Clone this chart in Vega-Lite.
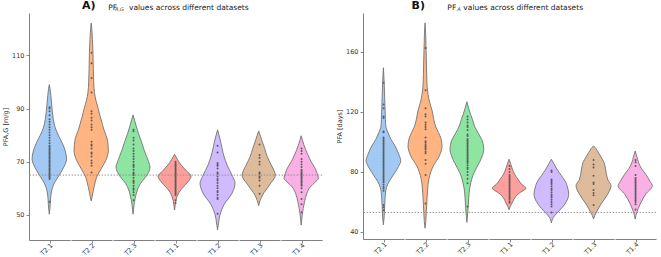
{
"$schema": "https://vega.github.io/schema/vega-lite/v6.json",
"padding": {"left": 2, "top": 0, "right": 0, "bottom": 0},
"title": {"text": "A,G\u2003\u2003\u2003\u2003\u2003\u2003\u2003\u2003\u2003\u2003\u2003\u2003\u2003\u2003\u2003\u2003\u2003\u2003\u2003\u2003\u2003\u2003\u2003\u2003\u2003\u2003\u2003\u2003\u2003\u2003\u2003\u2003\u2003\u2003\u2003\u2003\u2003\u2003\u2003\u2003\u2003\u2003\u2003\u2003\u2003\u2003\u2003\u2003\u2003\u2003\u2003\u2003\u2003\u2003\u2003\u2003\u2003\u2003\u2003\u2003\u2003\u2003\u2003\u2003\u2003\u2003\u00a0\u00a0A", "anchor": "start", "frame": "group", "dx": 86, "fontSize": 5, "fontStyle": "italic", "fontWeight": "normal", "color": "#333", "offset": -11.5},
"spacing": 13,
"config": {
  "font": "DejaVu Sans",
  "view": {"stroke": null},
  "axis": {"grid": false, "labelFont": "DejaVu Sans", "titleFont": "DejaVu Sans", "labelFontSize": 6.5, "titleFontSize": 6.5, "titleFontWeight": "normal", "labelColor": "#333", "titleColor": "#333", "domainColor": "#707070", "tickColor": "#707070", "domainWidth": 0.9, "tickWidth": 0.8, "tickSize": 3, "labelPadding": 2, "titlePadding": 3, "labelOverlap": false},
  "header": {"labelFont": "DejaVu Sans"},
  "title": {"font": "DejaVu Sans"}
},
"hconcat": [
{
  "title": {"text": "A)", "subtitle": "\u200b\u00a0\u00a0\u00a0\u00a0\u00a0\u00a0\u00a0\u00a0\u00a0\u00a0\u00a0PF\u00a0\u00a0\u00a0\u00a0\u00a0values across different datasets", "anchor": "start", "frame": "group", "dx": 53, "fontSize": 11, "fontWeight": "bold", "color": "#111", "subtitleFontSize": 7.5, "subtitleColor": "#222", "subtitlePadding": -7.5, "offset": 2},
  "bounds": "flush",
  "data": {"values": [
    {"g":"T2.1","k":"s","v":50.3,"w":0},{"g":"T2.1","k":"s","v":53,"w":1.5},{"g":"T2.1","k":"s","v":56,"w":2.5},{"g":"T2.1","k":"s","v":59,"w":4.5},{"g":"T2.1","k":"s","v":62,"w":10},{"g":"T2.1","k":"s","v":65,"w":20},{"g":"T2.1","k":"s","v":68,"w":29},{"g":"T2.1","k":"s","v":71,"w":34.5},{"g":"T2.1","k":"s","v":74,"w":32},{"g":"T2.1","k":"s","v":77,"w":26},{"g":"T2.1","k":"s","v":80,"w":18},{"g":"T2.1","k":"s","v":83,"w":11.5},{"g":"T2.1","k":"s","v":86,"w":8},{"g":"T2.1","k":"s","v":89,"w":6},{"g":"T2.1","k":"s","v":92,"w":4.5},{"g":"T2.1","k":"s","v":95,"w":3},{"g":"T2.1","k":"s","v":97.5,"w":1.5},{"g":"T2.1","k":"s","v":99,"w":0},
    {"g":"T2.2","k":"s","v":55.3,"w":0},{"g":"T2.2","k":"s","v":57,"w":2},{"g":"T2.2","k":"s","v":59,"w":4},{"g":"T2.2","k":"s","v":61,"w":6.5},{"g":"T2.2","k":"s","v":64,"w":10.5},{"g":"T2.2","k":"s","v":67.6,"w":20.7},{"g":"T2.2","k":"s","v":71.3,"w":31},{"g":"T2.2","k":"s","v":74.4,"w":34.3},{"g":"T2.2","k":"s","v":78.8,"w":31.7},{"g":"T2.2","k":"s","v":82,"w":25.5},{"g":"T2.2","k":"s","v":84,"w":22.5},{"g":"T2.2","k":"s","v":87,"w":18},{"g":"T2.2","k":"s","v":90,"w":14},{"g":"T2.2","k":"s","v":93,"w":9.5},{"g":"T2.2","k":"s","v":96,"w":6.5},{"g":"T2.2","k":"s","v":100,"w":5},{"g":"T2.2","k":"s","v":105,"w":4.2},{"g":"T2.2","k":"s","v":111,"w":3.5},{"g":"T2.2","k":"s","v":116,"w":2.5},{"g":"T2.2","k":"s","v":120,"w":1.2},{"g":"T2.2","k":"s","v":122.1,"w":0},
    {"g":"T2.3","k":"s","v":50.3,"w":0},{"g":"T2.3","k":"s","v":53.8,"w":2},{"g":"T2.3","k":"s","v":57.5,"w":5.7},{"g":"T2.3","k":"s","v":61.9,"w":15},{"g":"T2.3","k":"s","v":64,"w":24},{"g":"T2.3","k":"s","v":66,"w":31},{"g":"T2.3","k":"s","v":68,"w":34},{"g":"T2.3","k":"s","v":70,"w":31},{"g":"T2.3","k":"s","v":72,"w":27},{"g":"T2.3","k":"s","v":74.5,"w":22},{"g":"T2.3","k":"s","v":77.6,"w":16.7},{"g":"T2.3","k":"s","v":80.5,"w":11},{"g":"T2.3","k":"s","v":83.8,"w":5.7},{"g":"T2.3","k":"s","v":86,"w":2.5},{"g":"T2.3","k":"s","v":87.6,"w":0},
    {"g":"T1.1","k":"s","v":51.9,"w":0},{"g":"T1.1","k":"s","v":54,"w":1.5},{"g":"T1.1","k":"s","v":56.9,"w":5},{"g":"T1.1","k":"s","v":58.5,"w":9},{"g":"T1.1","k":"s","v":60.6,"w":17.7},{"g":"T1.1","k":"s","v":62.5,"w":27},{"g":"T1.1","k":"s","v":64.6,"w":33},{"g":"T1.1","k":"s","v":66.5,"w":24},{"g":"T1.1","k":"s","v":68.8,"w":13.3},{"g":"T1.1","k":"s","v":70.8,"w":6},{"g":"T1.1","k":"s","v":72.8,"w":0},
    {"g":"T1.2","k":"s","v":44.4,"w":0},{"g":"T1.2","k":"s","v":47,"w":2},{"g":"T1.2","k":"s","v":50,"w":4.7},{"g":"T1.2","k":"s","v":53.8,"w":12.7},{"g":"T1.2","k":"s","v":58.2,"w":29},{"g":"T1.2","k":"s","v":61.9,"w":35},{"g":"T1.2","k":"s","v":64.5,"w":30},{"g":"T1.2","k":"s","v":68.8,"w":19},{"g":"T1.2","k":"s","v":72,"w":13},{"g":"T1.2","k":"s","v":75.1,"w":9},{"g":"T1.2","k":"s","v":78.5,"w":5},{"g":"T1.2","k":"s","v":82,"w":0},
    {"g":"T1.3","k":"s","v":53.5,"w":0},{"g":"T1.3","k":"s","v":55.5,"w":3},{"g":"T1.3","k":"s","v":57.5,"w":7.7},{"g":"T1.3","k":"s","v":61.3,"w":21.7},{"g":"T1.3","k":"s","v":65,"w":33.3},{"g":"T1.3","k":"s","v":66.5,"w":31},{"g":"T1.3","k":"s","v":68.8,"w":25},{"g":"T1.3","k":"s","v":72,"w":17},{"g":"T1.3","k":"s","v":75.1,"w":11.7},{"g":"T1.3","k":"s","v":78.5,"w":5.5},{"g":"T1.3","k":"s","v":81.6,"w":0},
    {"g":"T1.4","k":"s","v":46.2,"w":0},{"g":"T1.4","k":"s","v":50,"w":2},{"g":"T1.4","k":"s","v":55,"w":6.7},{"g":"T1.4","k":"s","v":58,"w":11},{"g":"T1.4","k":"s","v":60.6,"w":18.3},{"g":"T1.4","k":"s","v":62.2,"w":27},{"g":"T1.4","k":"s","v":63.8,"w":34.3},{"g":"T1.4","k":"s","v":65.5,"w":32},{"g":"T1.4","k":"s","v":67.6,"w":27.7},{"g":"T1.4","k":"s","v":70,"w":20},{"g":"T1.4","k":"s","v":72.6,"w":13.3},{"g":"T1.4","k":"s","v":76,"w":6},{"g":"T1.4","k":"s","v":79.8,"w":0},
    {"g":"T2.1","k":"p","v":55},{"g":"T2.1","k":"p","v":63.5},{"g":"T2.1","k":"p","v":64},{"g":"T2.1","k":"p","v":64.5},{"g":"T2.1","k":"p","v":65},{"g":"T2.1","k":"p","v":65.5},{"g":"T2.1","k":"p","v":66},{"g":"T2.1","k":"p","v":66.5},{"g":"T2.1","k":"p","v":67},{"g":"T2.1","k":"p","v":67.5},{"g":"T2.1","k":"p","v":68},{"g":"T2.1","k":"p","v":68.5},{"g":"T2.1","k":"p","v":69},{"g":"T2.1","k":"p","v":69.5},{"g":"T2.1","k":"p","v":70},{"g":"T2.1","k":"p","v":70.5},{"g":"T2.1","k":"p","v":71},{"g":"T2.1","k":"p","v":71.5},{"g":"T2.1","k":"p","v":72},{"g":"T2.1","k":"p","v":72.5},{"g":"T2.1","k":"p","v":73},{"g":"T2.1","k":"p","v":73.5},{"g":"T2.1","k":"p","v":74},{"g":"T2.1","k":"p","v":74.5},{"g":"T2.1","k":"p","v":75},{"g":"T2.1","k":"p","v":75.5},{"g":"T2.1","k":"p","v":76},{"g":"T2.1","k":"p","v":77},{"g":"T2.1","k":"p","v":78},{"g":"T2.1","k":"p","v":79},{"g":"T2.1","k":"p","v":80},{"g":"T2.1","k":"p","v":81},{"g":"T2.1","k":"p","v":82},{"g":"T2.1","k":"p","v":83},{"g":"T2.1","k":"p","v":84},{"g":"T2.1","k":"p","v":85},{"g":"T2.1","k":"p","v":86},{"g":"T2.1","k":"p","v":87.5},{"g":"T2.1","k":"p","v":89},{"g":"T2.1","k":"p","v":90},{"g":"T2.1","k":"p","v":90.5},
    {"g":"T2.2","k":"p","v":66},{"g":"T2.2","k":"p","v":68.5},{"g":"T2.2","k":"p","v":69.5},{"g":"T2.2","k":"p","v":70.5},{"g":"T2.2","k":"p","v":72},{"g":"T2.2","k":"p","v":73},{"g":"T2.2","k":"p","v":73.5},{"g":"T2.2","k":"p","v":75},{"g":"T2.2","k":"p","v":76},{"g":"T2.2","k":"p","v":76.5},{"g":"T2.2","k":"p","v":77.5},{"g":"T2.2","k":"p","v":82},{"g":"T2.2","k":"p","v":83},{"g":"T2.2","k":"p","v":84},{"g":"T2.2","k":"p","v":85.5},{"g":"T2.2","k":"p","v":86.5},{"g":"T2.2","k":"p","v":88},{"g":"T2.2","k":"p","v":89},{"g":"T2.2","k":"p","v":96},{"g":"T2.2","k":"p","v":101.5},{"g":"T2.2","k":"p","v":107},{"g":"T2.2","k":"p","v":111},
    {"g":"T2.3","k":"p","v":55.5},{"g":"T2.3","k":"p","v":57.5},{"g":"T2.3","k":"p","v":58.5},{"g":"T2.3","k":"p","v":59.5},{"g":"T2.3","k":"p","v":60},{"g":"T2.3","k":"p","v":61},{"g":"T2.3","k":"p","v":62},{"g":"T2.3","k":"p","v":62.5},{"g":"T2.3","k":"p","v":63},{"g":"T2.3","k":"p","v":64},{"g":"T2.3","k":"p","v":65},{"g":"T2.3","k":"p","v":65.5},{"g":"T2.3","k":"p","v":66},{"g":"T2.3","k":"p","v":67},{"g":"T2.3","k":"p","v":68},{"g":"T2.3","k":"p","v":68.5},{"g":"T2.3","k":"p","v":69},{"g":"T2.3","k":"p","v":70},{"g":"T2.3","k":"p","v":71},{"g":"T2.3","k":"p","v":72},{"g":"T2.3","k":"p","v":73},{"g":"T2.3","k":"p","v":74},{"g":"T2.3","k":"p","v":75},{"g":"T2.3","k":"p","v":76.5},{"g":"T2.3","k":"p","v":78},{"g":"T2.3","k":"p","v":79},{"g":"T2.3","k":"p","v":81.5},{"g":"T2.3","k":"p","v":82},
    {"g":"T1.1","k":"p","v":54.5},{"g":"T1.1","k":"p","v":55.5},{"g":"T1.1","k":"p","v":57.5},{"g":"T1.1","k":"p","v":58},{"g":"T1.1","k":"p","v":58.5},{"g":"T1.1","k":"p","v":59},{"g":"T1.1","k":"p","v":59.5},{"g":"T1.1","k":"p","v":60},{"g":"T1.1","k":"p","v":60.5},{"g":"T1.1","k":"p","v":61},{"g":"T1.1","k":"p","v":61.5},{"g":"T1.1","k":"p","v":62},{"g":"T1.1","k":"p","v":62.5},{"g":"T1.1","k":"p","v":63},{"g":"T1.1","k":"p","v":63.5},{"g":"T1.1","k":"p","v":64},{"g":"T1.1","k":"p","v":64.5},{"g":"T1.1","k":"p","v":65},{"g":"T1.1","k":"p","v":65.5},{"g":"T1.1","k":"p","v":66},{"g":"T1.1","k":"p","v":66.5},{"g":"T1.1","k":"p","v":67},{"g":"T1.1","k":"p","v":67.5},{"g":"T1.1","k":"p","v":68},{"g":"T1.1","k":"p","v":68.5},{"g":"T1.1","k":"p","v":69},{"g":"T1.1","k":"p","v":69.5},{"g":"T1.1","k":"p","v":70},
    {"g":"T1.2","k":"p","v":50.5},{"g":"T1.2","k":"p","v":56},{"g":"T1.2","k":"p","v":56.5},{"g":"T1.2","k":"p","v":57.5},{"g":"T1.2","k":"p","v":58.5},{"g":"T1.2","k":"p","v":59},{"g":"T1.2","k":"p","v":60},{"g":"T1.2","k":"p","v":61},{"g":"T1.2","k":"p","v":62},{"g":"T1.2","k":"p","v":63},{"g":"T1.2","k":"p","v":63.5},{"g":"T1.2","k":"p","v":64.5},{"g":"T1.2","k":"p","v":65.5},{"g":"T1.2","k":"p","v":66},{"g":"T1.2","k":"p","v":67.5},{"g":"T1.2","k":"p","v":68.5},{"g":"T1.2","k":"p","v":69},{"g":"T1.2","k":"p","v":69.5},{"g":"T1.2","k":"p","v":73.5},{"g":"T1.2","k":"p","v":76},
    {"g":"T1.3","k":"p","v":58},{"g":"T1.3","k":"p","v":61},{"g":"T1.3","k":"p","v":63},{"g":"T1.3","k":"p","v":64},{"g":"T1.3","k":"p","v":64.5},{"g":"T1.3","k":"p","v":65.5},{"g":"T1.3","k":"p","v":66},{"g":"T1.3","k":"p","v":69},{"g":"T1.3","k":"p","v":70},{"g":"T1.3","k":"p","v":71.5},{"g":"T1.3","k":"p","v":72.5},{"g":"T1.3","k":"p","v":76.5},
    {"g":"T1.4","k":"p","v":51},{"g":"T1.4","k":"p","v":54},{"g":"T1.4","k":"p","v":56},{"g":"T1.4","k":"p","v":58.5},{"g":"T1.4","k":"p","v":60},{"g":"T1.4","k":"p","v":61},{"g":"T1.4","k":"p","v":61.5},{"g":"T1.4","k":"p","v":62},{"g":"T1.4","k":"p","v":62.5},{"g":"T1.4","k":"p","v":63},{"g":"T1.4","k":"p","v":63.5},{"g":"T1.4","k":"p","v":64},{"g":"T1.4","k":"p","v":64.5},{"g":"T1.4","k":"p","v":65},{"g":"T1.4","k":"p","v":65.5},{"g":"T1.4","k":"p","v":66},{"g":"T1.4","k":"p","v":66.5},{"g":"T1.4","k":"p","v":67},{"g":"T1.4","k":"p","v":68},{"g":"T1.4","k":"p","v":69},{"g":"T1.4","k":"p","v":70},{"g":"T1.4","k":"p","v":71},{"g":"T1.4","k":"p","v":73},{"g":"T1.4","k":"p","v":74},{"g":"T1.4","k":"p","v":75}
  ]},
  "facet": {"column": {"field": "g", "type": "nominal", "title": null, "sort": ["T2.1","T2.2","T2.3","T1.1","T1.2","T1.3","T1.4"], "header": {"labelOrient": "bottom", "labelAngle": -45, "labelAlign": "right", "labelBaseline": "top", "labelFontSize": 6.5, "labelColor": "#333", "labelPadding": -1}}},
  "spacing": 0,
  "spec": {
    "width": 41.1, "height": 227,
    "layer": [
      {"transform": [{"filter": "datum.k == 's'"}],
       "mark": {"type": "area", "orient": "horizontal", "interpolate": "monotone", "stroke": "#737373", "strokeWidth": 0.9, "fillOpacity": 1},
       "encoding": {
         "y": {"field": "v", "type": "quantitative", "scale": {"domain": [40.6, 125.9], "nice": false, "zero": false}, "axis": {"values": [50,60,70,80,90,100,110,120], "title": "PFA,G [m/g]"}},
         "x": {"field": "w", "type": "quantitative", "stack": "center", "impute": null, "title": null, "scale": {"domain": [-3.05, 38.05], "nice": false, "zero": false}, "axis": {"values": [17.5], "labels": false, "ticks": true, "grid": false, "title": null}},
         "color": {"field": "g", "type": "nominal", "legend": null, "scale": {"domain": ["T2.1","T2.2","T2.3","T1.1","T1.2","T1.3","T1.4"], "range": ["#a1c9f4","#ffb482","#8de5a1","#ff9f9b","#d0bbff","#debb9b","#fab0e4"]}}
       }},
      {"transform": [{"aggregate": [{"op": "count", "as": "n"}], "groupby": ["g"]}],
       "mark": {"type": "rule", "strokeDash": [1.5, 1.5], "color": "#8a8a8a", "strokeWidth": 0.9},
       "encoding": {"y": {"datum": 65, "type": "quantitative", "scale": {"domain": [40.6, 125.9], "nice": false, "zero": false}}}},
      {"transform": [{"filter": "datum.k == 'p'"}],
       "mark": {"type": "circle", "size": 4, "color": "#5c5c5c", "opacity": 1},
       "encoding": {"y": {"field": "v", "type": "quantitative", "scale": {"domain": [40.6, 125.9], "nice": false, "zero": false}}}}
    ]
  }
},
{
  "title": {"text": "B)", "subtitle": "\u200b\u00a0\u00a0\u00a0\u00a0\u00a0\u00a0\u00a0\u00a0\u00a0\u00a0\u00a0\u00a0\u00a0\u00a0\u00a0PF\u00a0\u00a0\u00a0values across different datasets", "anchor": "start", "frame": "group", "dx": 48.6, "fontSize": 11, "fontWeight": "bold", "color": "#111", "subtitleFontSize": 7.5, "subtitleColor": "#222", "subtitlePadding": -7.5, "offset": 2},
  "bounds": "flush",
  "data": {"values": [
    {"g":"T2.1","k":"s","v":44.7,"w":0},{"g":"T2.1","k":"s","v":50,"w":1.5},{"g":"T2.1","k":"s","v":57.5,"w":2.5},{"g":"T2.1","k":"s","v":63,"w":3.5},{"g":"T2.1","k":"s","v":67.4,"w":4.7},{"g":"T2.1","k":"s","v":71.9,"w":8.7},{"g":"T2.1","k":"s","v":75.5,"w":15},{"g":"T2.1","k":"s","v":79.7,"w":23.3},{"g":"T2.1","k":"s","v":83.5,"w":30},{"g":"T2.1","k":"s","v":87.4,"w":34.7},{"g":"T2.1","k":"s","v":91.5,"w":31},{"g":"T2.1","k":"s","v":97.3,"w":23.3},{"g":"T2.1","k":"s","v":101.5,"w":15.5},{"g":"T2.1","k":"s","v":106.2,"w":9.3},{"g":"T2.1","k":"s","v":110,"w":5},{"g":"T2.1","k":"s","v":115.1,"w":4},{"g":"T2.1","k":"s","v":120,"w":3.5},{"g":"T2.1","k":"s","v":130,"w":2.5},{"g":"T2.1","k":"s","v":140,"w":1.5},{"g":"T2.1","k":"s","v":149.4,"w":0},
    {"g":"T2.2","k":"s","v":42.5,"w":0},{"g":"T2.2","k":"s","v":47,"w":1.5},{"g":"T2.2","k":"s","v":53.1,"w":2.5},{"g":"T2.2","k":"s","v":59,"w":3.5},{"g":"T2.2","k":"s","v":64.1,"w":4.3},{"g":"T2.2","k":"s","v":70,"w":5.5},{"g":"T2.2","k":"s","v":75.2,"w":7.7},{"g":"T2.2","k":"s","v":80,"w":11.5},{"g":"T2.2","k":"s","v":84.1,"w":16.7},{"g":"T2.2","k":"s","v":90.7,"w":28.7},{"g":"T2.2","k":"s","v":97.3,"w":34},{"g":"T2.2","k":"s","v":102,"w":32},{"g":"T2.2","k":"s","v":106.2,"w":27},{"g":"T2.2","k":"s","v":110,"w":21.5},{"g":"T2.2","k":"s","v":115.1,"w":17.3},{"g":"T2.2","k":"s","v":120.6,"w":14.3},{"g":"T2.2","k":"s","v":126,"w":9.5},{"g":"T2.2","k":"s","v":131.7,"w":6},{"g":"T2.2","k":"s","v":136.1,"w":4.3},{"g":"T2.2","k":"s","v":145,"w":3.3},{"g":"T2.2","k":"s","v":160,"w":2.2},{"g":"T2.2","k":"s","v":172,"w":1.2},{"g":"T2.2","k":"s","v":179.3,"w":0},
    {"g":"T2.3","k":"s","v":46.4,"w":0},{"g":"T2.3","k":"s","v":52,"w":1.5},{"g":"T2.3","k":"s","v":57.5,"w":2.7},{"g":"T2.3","k":"s","v":63,"w":3.8},{"g":"T2.3","k":"s","v":68.6,"w":5.3},{"g":"T2.3","k":"s","v":73,"w":8},{"g":"T2.3","k":"s","v":77.4,"w":11.7},{"g":"T2.3","k":"s","v":82,"w":18},{"g":"T2.3","k":"s","v":86.3,"w":25},{"g":"T2.3","k":"s","v":90.5,"w":30.5},{"g":"T2.3","k":"s","v":95.1,"w":33.7},{"g":"T2.3","k":"s","v":100,"w":31.5},{"g":"T2.3","k":"s","v":106.2,"w":22},{"g":"T2.3","k":"s","v":110,"w":16},{"g":"T2.3","k":"s","v":115.1,"w":11},{"g":"T2.3","k":"s","v":118.4,"w":7.3},{"g":"T2.3","k":"s","v":122.5,"w":3.5},{"g":"T2.3","k":"s","v":126.8,"w":0},
    {"g":"T1.1","k":"s","v":54.8,"w":0},{"g":"T1.1","k":"s","v":57,"w":2.5},{"g":"T1.1","k":"s","v":59.7,"w":6.7},{"g":"T1.1","k":"s","v":62.5,"w":11},{"g":"T1.1","k":"s","v":65.2,"w":17.7},{"g":"T1.1","k":"s","v":67.5,"w":28},{"g":"T1.1","k":"s","v":69.2,"w":34},{"g":"T1.1","k":"s","v":71.5,"w":26},{"g":"T1.1","k":"s","v":75.2,"w":17.7},{"g":"T1.1","k":"s","v":78.5,"w":11},{"g":"T1.1","k":"s","v":81.9,"w":6.7},{"g":"T1.1","k":"s","v":85,"w":3.5},{"g":"T1.1","k":"s","v":88.5,"w":0},
    {"g":"T1.2","k":"s","v":46,"w":0},{"g":"T1.2","k":"s","v":49.8,"w":4},{"g":"T1.2","k":"s","v":53.1,"w":12.7},{"g":"T1.2","k":"s","v":58.6,"w":27},{"g":"T1.2","k":"s","v":65.2,"w":34.7},{"g":"T1.2","k":"s","v":70,"w":32},{"g":"T1.2","k":"s","v":73,"w":29},{"g":"T1.2","k":"s","v":77.5,"w":20},{"g":"T1.2","k":"s","v":81.9,"w":11},{"g":"T1.2","k":"s","v":85.5,"w":5},{"g":"T1.2","k":"s","v":88.5,"w":0},
    {"g":"T1.3","k":"s","v":48.6,"w":0},{"g":"T1.3","k":"s","v":51,"w":2.5},{"g":"T1.3","k":"s","v":53.1,"w":5.7},{"g":"T1.3","k":"s","v":58.6,"w":15},{"g":"T1.3","k":"s","v":65.2,"w":28.3},{"g":"T1.3","k":"s","v":70.8,"w":35},{"g":"T1.3","k":"s","v":74.5,"w":29},{"g":"T1.3","k":"s","v":78.5,"w":25.7},{"g":"T1.3","k":"s","v":82,"w":24},{"g":"T1.3","k":"s","v":86.3,"w":21},{"g":"T1.3","k":"s","v":90,"w":15},{"g":"T1.3","k":"s","v":93,"w":9.7},{"g":"T1.3","k":"s","v":95.5,"w":5},{"g":"T1.3","k":"s","v":97.3,"w":0},
    {"g":"T1.4","k":"s","v":48.6,"w":0},{"g":"T1.4","k":"s","v":51,"w":1.5},{"g":"T1.4","k":"s","v":53.1,"w":3.3},{"g":"T1.4","k":"s","v":58.6,"w":10},{"g":"T1.4","k":"s","v":65.2,"w":21},{"g":"T1.4","k":"s","v":70.8,"w":34.3},{"g":"T1.4","k":"s","v":73.5,"w":30},{"g":"T1.4","k":"s","v":78.5,"w":21},{"g":"T1.4","k":"s","v":82.5,"w":12},{"g":"T1.4","k":"s","v":86.3,"w":6.7},{"g":"T1.4","k":"s","v":90,"w":3.5},{"g":"T1.4","k":"s","v":94,"w":0},
    {"g":"T2.1","k":"p","v":54.5},{"g":"T2.1","k":"p","v":56.5},{"g":"T2.1","k":"p","v":58},{"g":"T2.1","k":"p","v":67.5},{"g":"T2.1","k":"p","v":69},{"g":"T2.1","k":"p","v":70},{"g":"T2.1","k":"p","v":71.5},{"g":"T2.1","k":"p","v":73},{"g":"T2.1","k":"p","v":74},{"g":"T2.1","k":"p","v":75},{"g":"T2.1","k":"p","v":76},{"g":"T2.1","k":"p","v":77},{"g":"T2.1","k":"p","v":78},{"g":"T2.1","k":"p","v":79},{"g":"T2.1","k":"p","v":80},{"g":"T2.1","k":"p","v":81},{"g":"T2.1","k":"p","v":82},{"g":"T2.1","k":"p","v":83},{"g":"T2.1","k":"p","v":84},{"g":"T2.1","k":"p","v":85},{"g":"T2.1","k":"p","v":86},{"g":"T2.1","k":"p","v":87},{"g":"T2.1","k":"p","v":88},{"g":"T2.1","k":"p","v":89},{"g":"T2.1","k":"p","v":90},{"g":"T2.1","k":"p","v":91},{"g":"T2.1","k":"p","v":92},{"g":"T2.1","k":"p","v":93},{"g":"T2.1","k":"p","v":94},{"g":"T2.1","k":"p","v":95},{"g":"T2.1","k":"p","v":96},{"g":"T2.1","k":"p","v":97},{"g":"T2.1","k":"p","v":98},{"g":"T2.1","k":"p","v":99},{"g":"T2.1","k":"p","v":100},{"g":"T2.1","k":"p","v":101},{"g":"T2.1","k":"p","v":102},{"g":"T2.1","k":"p","v":103},{"g":"T2.1","k":"p","v":106.5},{"g":"T2.1","k":"p","v":107},{"g":"T2.1","k":"p","v":116},{"g":"T2.1","k":"p","v":117},{"g":"T2.1","k":"p","v":122.5},{"g":"T2.1","k":"p","v":125},{"g":"T2.1","k":"p","v":139.5},
    {"g":"T2.2","k":"p","v":59},{"g":"T2.2","k":"p","v":78},{"g":"T2.2","k":"p","v":85.5},{"g":"T2.2","k":"p","v":88},{"g":"T2.2","k":"p","v":92.5},{"g":"T2.2","k":"p","v":93.5},{"g":"T2.2","k":"p","v":95},{"g":"T2.2","k":"p","v":96},{"g":"T2.2","k":"p","v":97},{"g":"T2.2","k":"p","v":98},{"g":"T2.2","k":"p","v":99.5},{"g":"T2.2","k":"p","v":100.5},{"g":"T2.2","k":"p","v":103},{"g":"T2.2","k":"p","v":108.5},{"g":"T2.2","k":"p","v":110},{"g":"T2.2","k":"p","v":111.5},{"g":"T2.2","k":"p","v":113},{"g":"T2.2","k":"p","v":117},{"g":"T2.2","k":"p","v":118.5},{"g":"T2.2","k":"p","v":122.5},{"g":"T2.2","k":"p","v":134.5},{"g":"T2.2","k":"p","v":162.5},
    {"g":"T2.3","k":"p","v":57},{"g":"T2.3","k":"p","v":72.5},{"g":"T2.3","k":"p","v":75.5},{"g":"T2.3","k":"p","v":78},{"g":"T2.3","k":"p","v":80},{"g":"T2.3","k":"p","v":82},{"g":"T2.3","k":"p","v":83},{"g":"T2.3","k":"p","v":84.5},{"g":"T2.3","k":"p","v":86},{"g":"T2.3","k":"p","v":87},{"g":"T2.3","k":"p","v":88},{"g":"T2.3","k":"p","v":89},{"g":"T2.3","k":"p","v":90},{"g":"T2.3","k":"p","v":91},{"g":"T2.3","k":"p","v":92},{"g":"T2.3","k":"p","v":93},{"g":"T2.3","k":"p","v":94},{"g":"T2.3","k":"p","v":95},{"g":"T2.3","k":"p","v":96},{"g":"T2.3","k":"p","v":97},{"g":"T2.3","k":"p","v":98},{"g":"T2.3","k":"p","v":99},{"g":"T2.3","k":"p","v":100},{"g":"T2.3","k":"p","v":101},{"g":"T2.3","k":"p","v":102},{"g":"T2.3","k":"p","v":104},{"g":"T2.3","k":"p","v":105},{"g":"T2.3","k":"p","v":108},{"g":"T2.3","k":"p","v":110},{"g":"T2.3","k":"p","v":111},{"g":"T2.3","k":"p","v":113},{"g":"T2.3","k":"p","v":115},{"g":"T2.3","k":"p","v":117},
    {"g":"T1.1","k":"p","v":59.5},{"g":"T1.1","k":"p","v":60.5},{"g":"T1.1","k":"p","v":62},{"g":"T1.1","k":"p","v":63},{"g":"T1.1","k":"p","v":64},{"g":"T1.1","k":"p","v":65},{"g":"T1.1","k":"p","v":66},{"g":"T1.1","k":"p","v":67},{"g":"T1.1","k":"p","v":68},{"g":"T1.1","k":"p","v":69},{"g":"T1.1","k":"p","v":70},{"g":"T1.1","k":"p","v":71},{"g":"T1.1","k":"p","v":72},{"g":"T1.1","k":"p","v":73},{"g":"T1.1","k":"p","v":74},{"g":"T1.1","k":"p","v":75},{"g":"T1.1","k":"p","v":76},{"g":"T1.1","k":"p","v":77},{"g":"T1.1","k":"p","v":78},{"g":"T1.1","k":"p","v":80},{"g":"T1.1","k":"p","v":82},{"g":"T1.1","k":"p","v":84},
    {"g":"T1.2","k":"p","v":53},{"g":"T1.2","k":"p","v":57},{"g":"T1.2","k":"p","v":58.5},{"g":"T1.2","k":"p","v":60},{"g":"T1.2","k":"p","v":61.5},{"g":"T1.2","k":"p","v":63},{"g":"T1.2","k":"p","v":64},{"g":"T1.2","k":"p","v":65},{"g":"T1.2","k":"p","v":66.5},{"g":"T1.2","k":"p","v":68},{"g":"T1.2","k":"p","v":69},{"g":"T1.2","k":"p","v":70.5},{"g":"T1.2","k":"p","v":72},{"g":"T1.2","k":"p","v":73},{"g":"T1.2","k":"p","v":74},{"g":"T1.2","k":"p","v":75},{"g":"T1.2","k":"p","v":80},{"g":"T1.2","k":"p","v":81},
    {"g":"T1.3","k":"p","v":58},{"g":"T1.3","k":"p","v":64.5},{"g":"T1.3","k":"p","v":66},{"g":"T1.3","k":"p","v":68},{"g":"T1.3","k":"p","v":72},{"g":"T1.3","k":"p","v":73},{"g":"T1.3","k":"p","v":77.5},{"g":"T1.3","k":"p","v":83},{"g":"T1.3","k":"p","v":85},{"g":"T1.3","k":"p","v":88},
    {"g":"T1.4","k":"p","v":55},{"g":"T1.4","k":"p","v":58.5},{"g":"T1.4","k":"p","v":60},{"g":"T1.4","k":"p","v":61},{"g":"T1.4","k":"p","v":62},{"g":"T1.4","k":"p","v":63},{"g":"T1.4","k":"p","v":64},{"g":"T1.4","k":"p","v":65},{"g":"T1.4","k":"p","v":66},{"g":"T1.4","k":"p","v":67},{"g":"T1.4","k":"p","v":68},{"g":"T1.4","k":"p","v":69},{"g":"T1.4","k":"p","v":70},{"g":"T1.4","k":"p","v":71},{"g":"T1.4","k":"p","v":72},{"g":"T1.4","k":"p","v":73},{"g":"T1.4","k":"p","v":74},{"g":"T1.4","k":"p","v":75},{"g":"T1.4","k":"p","v":76},{"g":"T1.4","k":"p","v":78},{"g":"T1.4","k":"p","v":84},{"g":"T1.4","k":"p","v":86.5},{"g":"T1.4","k":"p","v":88}
  ]},
  "facet": {"column": {"field": "g", "type": "nominal", "title": null, "sort": ["T2.1","T2.2","T2.3","T1.1","T1.2","T1.3","T1.4"], "header": {"labelOrient": "bottom", "labelAngle": -45, "labelAlign": "right", "labelBaseline": "top", "labelFontSize": 6.5, "labelColor": "#333", "labelPadding": -1}}},
  "spacing": 0,
  "spec": {
    "width": 41.1, "height": 226,
    "layer": [
      {"transform": [{"filter": "datum.k == 's'"}],
       "mark": {"type": "area", "orient": "horizontal", "interpolate": "monotone", "stroke": "#737373", "strokeWidth": 0.9, "fillOpacity": 1},
       "encoding": {
         "y": {"field": "v", "type": "quantitative", "scale": {"domain": [35.3, 185.9], "nice": false, "zero": false}, "axis": {"values": [40,60,80,100,120,140,160,180], "title": "PFA [days]"}},
         "x": {"field": "w", "type": "quantitative", "stack": "center", "impute": null, "title": null, "scale": {"domain": [-3.05, 38.05], "nice": false, "zero": false}, "axis": {"values": [17.5], "labels": false, "ticks": true, "grid": false, "title": null}},
         "color": {"field": "g", "type": "nominal", "legend": null, "scale": {"domain": ["T2.1","T2.2","T2.3","T1.1","T1.2","T1.3","T1.4"], "range": ["#a1c9f4","#ffb482","#8de5a1","#ff9f9b","#d0bbff","#debb9b","#fab0e4"]}}
       }},
      {"transform": [{"aggregate": [{"op": "count", "as": "n"}], "groupby": ["g"]}],
       "mark": {"type": "rule", "strokeDash": [1.5, 1.5], "color": "#8a8a8a", "strokeWidth": 0.9},
       "encoding": {"y": {"datum": 53, "type": "quantitative", "scale": {"domain": [35.3, 185.9], "nice": false, "zero": false}}}},
      {"transform": [{"filter": "datum.k == 'p'"}],
       "mark": {"type": "circle", "size": 4, "color": "#5c5c5c", "opacity": 1},
       "encoding": {"y": {"field": "v", "type": "quantitative", "scale": {"domain": [35.3, 185.9], "nice": false, "zero": false}}}}
    ]
  }
}
]
}
